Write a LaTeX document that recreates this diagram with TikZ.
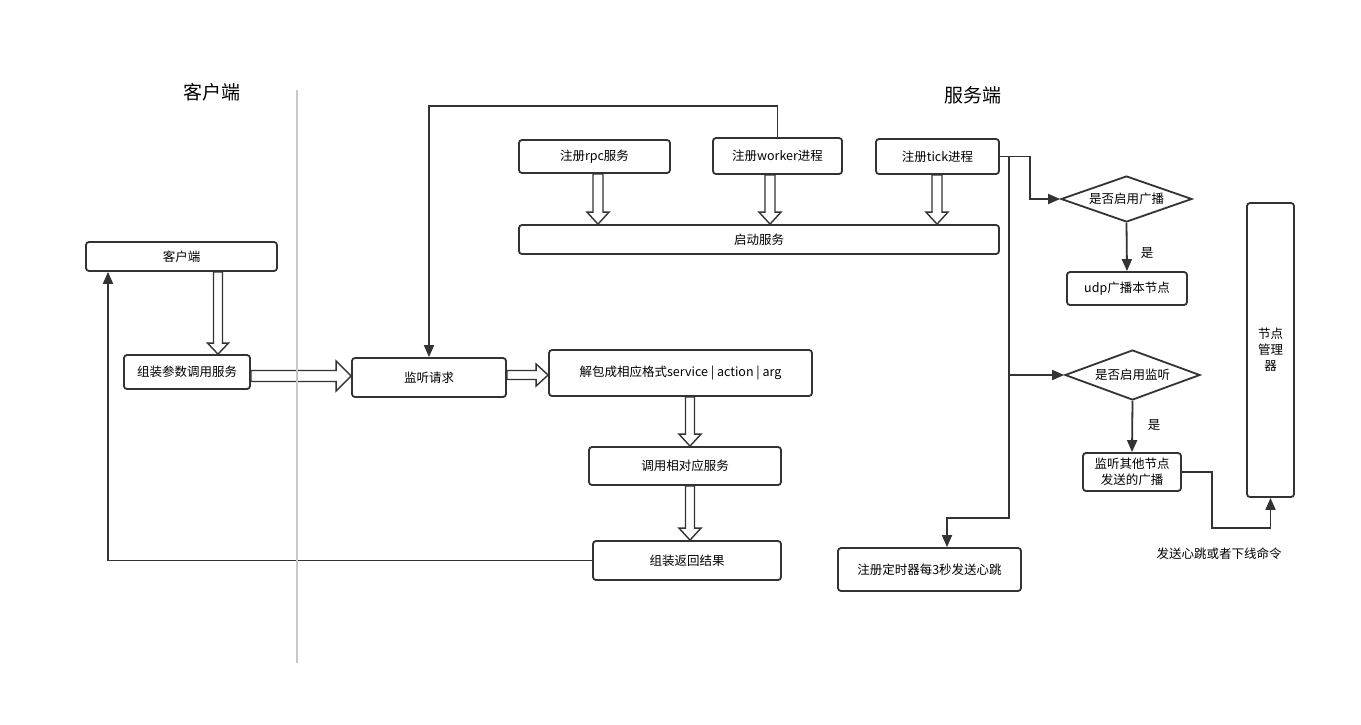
\documentclass[tikz,border=0pt]{standalone}
\usepackage{fontspec}
\setmainfont{Noto Sans CJK SC}
\usepackage{xcolor}
\usepackage{tikz}
\usetikzlibrary{arrows.meta,shapes.geometric,calc}

\definecolor{ink}{HTML}{333333}
\definecolor{rulegray}{HTML}{C8C8C8}

\pgfdeclarelayer{bg}
\pgfsetlayers{bg,main}

\tikzset{
  box/.style={draw=ink, line width=1.8pt, rounded corners=3pt, fill=white,
    inner sep=0pt, align=center, font=\fontsize{12.5}{16}\selectfont},
  decide/.style={diamond, draw=ink, line width=1.8pt, fill=white,
    inner sep=0pt, font=\fontsize{12.5}{16}\selectfont},
  link/.style={draw=ink, line width=1.8pt, -{Triangle[length=12pt,width=10pt]}},
  hollow/.style={draw=ink, line width=1.4pt, fill=white},
  lbl/.style={inner sep=0pt, font=\fontsize{12.5}{16}\selectfont},
  heading/.style={inner sep=0pt, font=\fontsize{19}{22}\selectfont},
}

% from, to, half shaft, half head, head length
\newcommand\hollowarrow[5]{%
  \draw[hollow] let \p1=#1, \p2=#2, \p3=($(\p2)!#5!(\p1)$) in
    ($(\p1)!#3!90:(\p2)$) -- ($(\p3)!#3!90:(\p2)$) -- ($(\p3)!#4!90:(\p2)$) -- (\p2)
    -- ($(\p3)!#4!-90:(\p2)$) -- ($(\p3)!#3!-90:(\p2)$) -- ($(\p1)!#3!-90:(\p2)$) -- cycle;
}

\begin{document}
\begin{tikzpicture}[x=1pt, y=-1pt]
  \useasboundingbox (0,0) rectangle (1361,724);

  \node[heading] (hclient) at (212,92) {客户端};
  \node[heading] (hserver) at (973,95) {服务端};
  \draw[rulegray, line width=1.8pt] (297,90) -- (297,663);

  % client side
  \node[box, minimum width=191pt, minimum height=29pt] (client) at (181.5,256.5) {客户端};
  \node[box, minimum width=126pt, minimum height=34pt] (pack) at (187,372) {组装参数调用服务};

  % server side
  \node[box, minimum width=151pt, minimum height=33pt] (rpc) at (594.5,156.5) {注册rpc服务};
  \node[box, minimum width=129pt, minimum height=36pt] (worker) at (777.5,156) {注册worker进程};
  \node[box, minimum width=123pt, minimum height=35pt] (tick) at (937.5,156.5) {注册tick进程};
  \node[box, minimum width=480pt, minimum height=29pt] (start) at (759,239.5) {启动服务};
  \node[box, minimum width=154pt, minimum height=39pt] (listen) at (429,377.5) {监听请求};
  \node[box, minimum width=263pt, minimum height=46pt] (unpack) at (680.5,373) {解包成相应格式service | action | arg};
  \node[box, minimum width=192pt, minimum height=38pt] (call) at (685,466) {调用相对应服务};
  \node[box, minimum width=188pt, minimum height=39pt] (result) at (687,560.5) {组装返回结果};
  \node[box, minimum width=183pt, minimum height=43pt] (timer) at (929.5,569.5) {注册定时器每3秒发送心跳};

  \node[decide, aspect=2.85, minimum width=131pt, minimum height=46pt] (bcast) at (1126.5,199) {是否启用广播};
  \node[box, minimum width=120pt, minimum height=33pt] (udp) at (1127,288.5) {udp广播本节点};
  \node[decide, aspect=2.7, minimum width=135pt, minimum height=50pt] (ifl) at (1132.5,375) {是否启用监听};
  \node[box, minimum width=98pt, minimum height=38pt] (other) at (1132,472) {监听其他节点\\发送的广播};
  \node[box, minimum width=47pt, minimum height=294pt] (mgr) at (1270.5,350) {节点\\管理\\器};

  \node[lbl] (yes1) at (1147,253) {是};
  \node[lbl] (yes2) at (1154,425) {是};
  \node[lbl] (cmd) at (1219,554) {发送心跳或者下线命令};

  \coordinate (bus) at (1009,0 |- tick.east);
  \coordinate (bend) at (1009,518);

  \begin{pgfonlayer}{bg}
    \fill[white] (0,0) rectangle (1361,724);
    \hollowarrow{(218,0 |- client.south)}{(218,0 |- pack.north)}{4.5pt}{10.5pt}{11pt}
    \hollowarrow{(pack.east |- 0,376)}{(listen.west |- 0,376)}{5.5pt}{15pt}{15pt}
    \hollowarrow{(listen.east |- 0,375)}{(unpack.west |- 0,375)}{4.5pt}{11pt}{12pt}
    \hollowarrow{(690,0 |- unpack.south)}{(690,0 |- call.north)}{4.5pt}{11pt}{12pt}
    \hollowarrow{(690,0 |- call.south)}{(690,0 |- result.north)}{4.5pt}{11pt}{12pt}
    \hollowarrow{(598,0 |- rpc.south)}{(598,0 |- start.north)}{5pt}{11pt}{12pt}
    \hollowarrow{(770,0 |- worker.south)}{(770,0 |- start.north)}{5pt}{11pt}{12pt}
    \hollowarrow{(937,0 |- tick.south)}{(937,0 |- start.north)}{5pt}{11pt}{12pt}

    \draw[link] (worker.north) -- ++(0,-31) -| (listen.north);
    \draw[link] (result.west) -| (108,0 |- client.south);
    \draw[link] (tick.east) -- (1030,0 |- tick.east) |- (bcast.west);
    \draw[link] (bus) -- (bend) -| ([xshift=17.5pt]timer.north);
    \draw[link] (bus |- ifl.west) -- (ifl.west);
    \draw[link] (bcast.south) -- (udp.north);
    \draw[link] (ifl.south) -- (other.north);
    \draw[link] (other.east) -- ++(30,0) -- ++(0,56) -| (mgr.south);
  \end{pgfonlayer}
\end{tikzpicture}
\end{document}
